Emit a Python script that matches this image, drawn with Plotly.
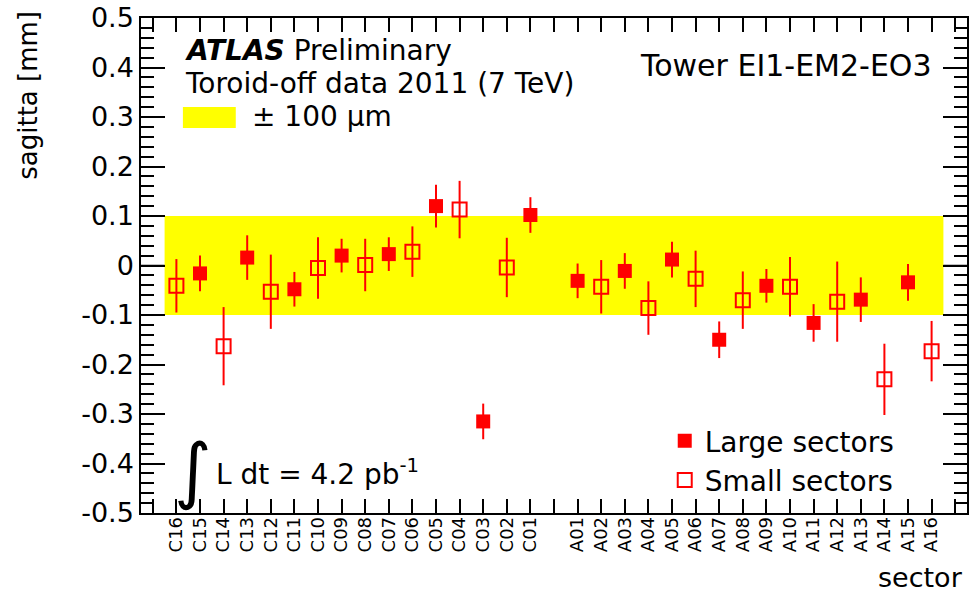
import plotly.graph_objects as go

# ---------------- data ----------------
tick_labels = ["", "C16", "C15", "C14", "C13", "C12", "C11", "C10", "C09", "C08",
               "C07", "C06", "C05", "C04", "C03", "C02", "C01", "",
               "A01", "A02", "A03", "A04", "A05", "A06", "A07", "A08", "A09",
               "A10", "A11", "A12", "A13", "A14", "A15", "A16", ""]

large_sectors = ["C15", "C13", "C11", "C09", "C07", "C05", "C03", "C01",
                 "A01", "A03", "A05", "A07", "A09", "A11", "A13", "A15"]
large_values = [-0.016, 0.016, -0.048, 0.020, 0.023, 0.120, -0.315, 0.102,
                -0.031, -0.011, 0.012, -0.150, -0.041, -0.116, -0.069, -0.034]
large_errors = [0.036, 0.045, 0.035, 0.034, 0.034, 0.043, 0.036, 0.036,
                0.035, 0.036, 0.036, 0.037, 0.034, 0.038, 0.045, 0.037]

small_sectors = ["C16", "C14", "C12", "C10", "C08", "C06", "C04", "C02",
                 "A02", "A04", "A06", "A08", "A10", "A12", "A14", "A16"]
small_values = [-0.041, -0.163, -0.053, -0.005, 0.001, 0.028, 0.113, -0.004,
                -0.043, -0.086, -0.027, -0.070, -0.043, -0.073, -0.230, -0.173]
small_errors = [0.054, 0.079, 0.075, 0.062, 0.053, 0.051, 0.058, 0.060,
                0.054, 0.054, 0.057, 0.058, 0.060, 0.081, 0.072, 0.061]

band_half_width = 0.1   # +-100 um
y_ticks = [0.5, 0.4, 0.3, 0.2, 0.1, 0.0, -0.1, -0.2, -0.3, -0.4, -0.5]

# ---------------- helpers ----------------
positions = list(range(-1, len(tick_labels) - 1))
pos_of = {lab: p for lab, p in zip(tick_labels, positions) if lab}
x_min, x_max = positions[0] - 0.5, positions[-1] + 0.5
first_bin = min(pos_of.values()) - 0.5
last_bin = max(pos_of.values()) + 0.5

W, H = 971, 596
PL, PR, PT, PB = 141, 969, 18, 513          # plot frame in window pixels
ML, MR, MT, MB = PL, W - PR, PT, H - PB
PW, PH = PR - PL, PB - PT

def px(x):
    return (x - PL) / PW

def py(y):
    return (PB - y) / PH

FONT = "DejaVu Sans"
RED = "#ff0000"

fig = go.Figure()

fig.add_trace(go.Scatter(
    x=[pos_of[s] for s in large_sectors], y=large_values,
    mode="markers", name="Large sectors",
    marker=dict(symbol="square", size=14, color=RED, line=dict(width=0)),
    error_y=dict(type="data", array=large_errors, color=RED, thickness=2, width=0),
    hovertext=large_sectors,
))
fig.add_trace(go.Scatter(
    x=[pos_of[s] for s in small_sectors], y=small_values,
    mode="markers", name="Small sectors",
    marker=dict(symbol="square-open", size=14, color=RED, line=dict(width=2, color=RED)),
    error_y=dict(type="data", array=small_errors, color=RED, thickness=2, width=0),
    hovertext=small_sectors,
))

# yellow +-100 um band and zero line
fig.add_shape(type="rect", xref="x", yref="y", x0=first_bin, x1=last_bin,
              y0=-band_half_width, y1=band_half_width,
              fillcolor="#ffff00", line=dict(width=0), layer="below")
fig.add_shape(type="line", xref="paper", yref="y", x0=0, x1=1, y0=0, y1=0,
              line=dict(color="black", width=1.5), layer="below")

ann = []
ann.append(dict(text="sagitta [mm]", textangle=-90, x=px(27), y=py(9),
                xanchor="center", yanchor="top", font=dict(size=26)))
ann.append(dict(text="sector", x=px(967), y=py(595), xanchor="right",
                yanchor="bottom", font=dict(size=27)))
ann.append(dict(text="<b><i>ATLAS</i></b> Preliminary", x=px(183), y=py(51),
                xanchor="left", yanchor="middle", font=dict(size=28)))
ann.append(dict(text="Toroid-off data 2011 (7 TeV)", x=px(183), y=py(84),
                xanchor="left", yanchor="middle", font=dict(size=28)))
ann.append(dict(text="\u00b1 100 \u03bcm", x=px(250), y=py(117),
                xanchor="left", yanchor="middle", font=dict(size=28)))
ann.append(dict(text="Tower EI1-EM2-EO3", x=px(936), y=py(66),
                xanchor="right", yanchor="middle", font=dict(size=30)))
ann.append(dict(text="\u222b", x=px(193), y=py(470),
                xanchor="center", yanchor="middle", font=dict(size=72)))
ann.append(dict(text="L dt = 4.2 pb<sup>-1</sup>", x=px(214), y=py(472),
                xanchor="left", yanchor="middle", font=dict(size=28)))
for a in ann:
    a.update(xref="paper", yref="paper", showarrow=False)
    a["font"].update(family=FONT, color="black")

# swatch for the yellow band
fig.add_shape(type="rect", xref="paper", yref="paper",
              x0=px(183), x1=px(236), y0=py(128), y1=py(107),
              fillcolor="#ffff00", line=dict(width=0))

fig.update_layout(
    width=W, height=H,
    margin=dict(l=ML, r=MR, t=MT, b=MB, pad=0),
    paper_bgcolor="white", plot_bgcolor="white",
    font=dict(family=FONT, color="black"),
    annotations=ann,
    showlegend=True,
    legend=dict(x=px(666), y=py(416), xanchor="left", yanchor="top",
                bgcolor="rgba(0,0,0,0)", font=dict(size=28, family=FONT),
                itemsizing="trace", tracegroupgap=0),
    hovermode="closest",
)

fig.update_xaxes(
    range=[x_min, x_max], tickmode="array", tickvals=positions, ticktext=tick_labels,
    tickangle=-90, ticks="inside", ticklen=14, tickwidth=1.5, tickcolor="black",
    showline=True, linecolor="black", linewidth=1.5, mirror="ticks",
    showgrid=False, zeroline=False, ticklabelstandoff=-5,
    tickfont=dict(size=18, family=FONT),
)
fig.update_yaxes(
    range=[-0.5, 0.5], tickmode="array", tickvals=y_ticks,
    ticktext=[("%g" % v) if v != 0 else "0" for v in y_ticks],
    ticks="inside", ticklen=24, tickwidth=1.5, tickcolor="black",
    minor=dict(dtick=0.02, ticks="inside", ticklen=13, tickwidth=1.5, tickcolor="black"),
    showline=True, linecolor="black", linewidth=1.5, mirror="ticks",
    showgrid=False, zeroline=False, ticklabeloverflow="allow",
    tickfont=dict(size=27, family=FONT),
)

fig.write_html("out.html", config={"displayModeBar": False},
               post_script="document.body.style.margin='0';")
